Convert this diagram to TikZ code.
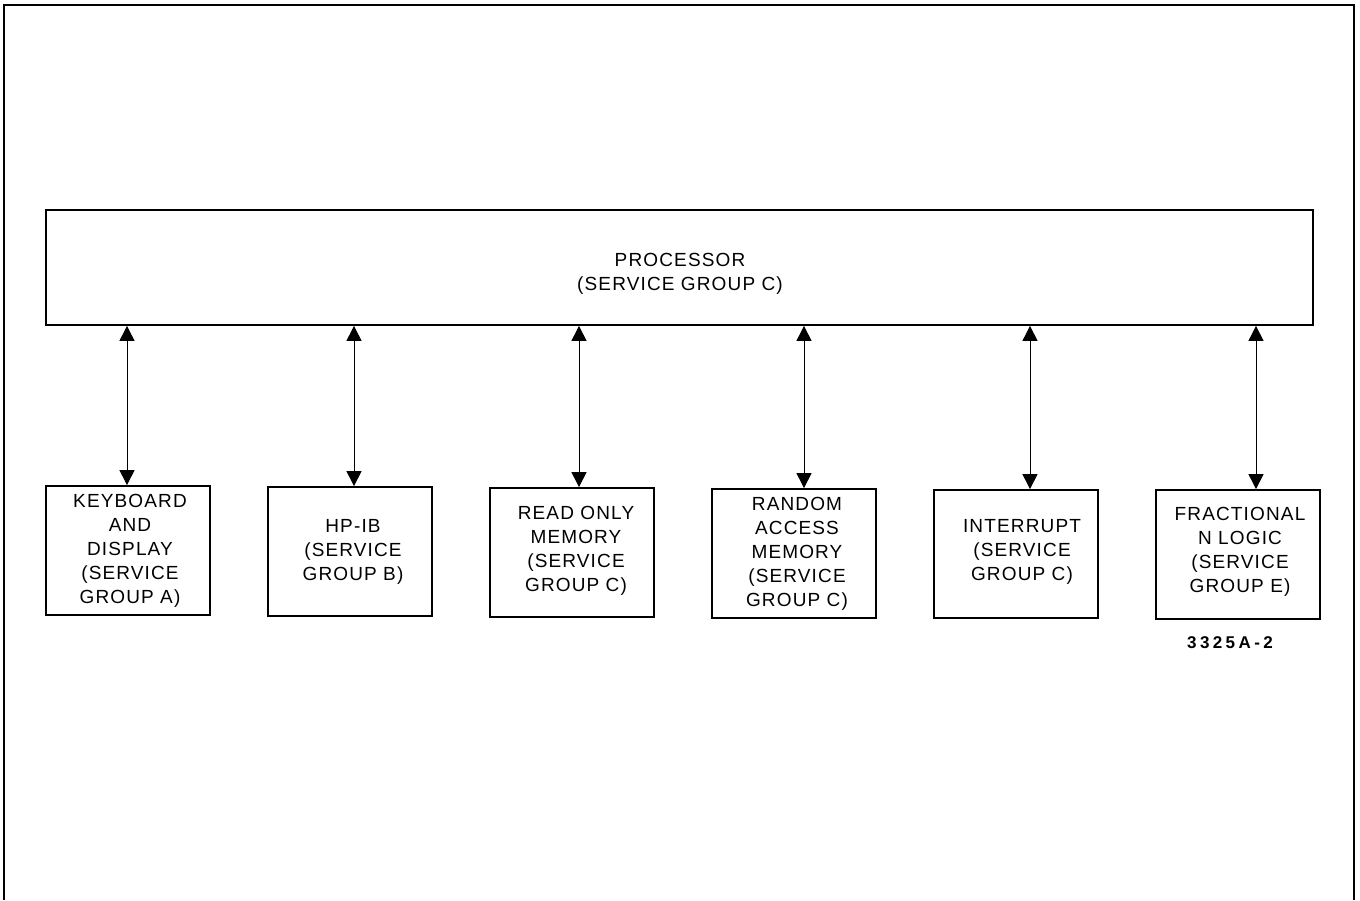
\documentclass[tikz,border=0pt]{standalone}
\usepackage{fontspec}
\setmainfont{Liberation Sans}[LetterSpace=6]
\usetikzlibrary{arrows.meta}
\begin{document}
\begin{tikzpicture}[x=1pt,y=-1pt,
  box/.style={draw,line width=1.8pt,inner sep=0pt},
  lbl/.style={align=center,font=\fontsize{19}{24}\selectfont},
  link/.style={line width=1pt,{Triangle[width=15pt,length=15pt]}-{Triangle[width=15pt,length=15pt]}}]
\useasboundingbox (0,0) rectangle (1360,900);
\draw[line width=2pt] (4,900) -- (4,5) -- (1354,5) -- (1354,900);
% processor
\node[box,minimum width=1267pt,minimum height=115pt] (proc) at (679.5,267.5) {};
\node[lbl] (proct) at (680,274) {PROCESSOR\\(SERVICE GROUP C)};
% lower boxes
\node[box,minimum width=164pt,minimum height=129pt] (b1) at (128,550.5) {};
\node[box,minimum width=164pt,minimum height=129pt] (b2) at (350,551.5) {};
\node[box,minimum width=164pt,minimum height=129pt] (b3) at (572,552.5) {};
\node[box,minimum width=164pt,minimum height=129pt] (b4) at (794,553.5) {};
\node[box,minimum width=164pt,minimum height=128pt] (b5) at (1016,554) {};
\node[box,minimum width=164pt,minimum height=129pt] (b6) at (1238,554.5) {};
\node[lbl] (t1) at (130,551) {KEYBOARD\\AND\\DISPLAY\\(SERVICE\\GROUP A)};
\node[lbl] (t2) at (353,552) {HP-IB\\(SERVICE\\GROUP B)};
\node[lbl] (t3) at (576,551) {READ ONLY\\MEMORY\\(SERVICE\\GROUP C)};
\node[lbl] (t4) at (797,554) {RANDOM\\ACCESS\\MEMORY\\(SERVICE\\GROUP C)};
\node[lbl] (t5) at (1022,552) {INTERRUPT\\(SERVICE\\GROUP C)};
\node[lbl] (t6) at (1240,552) {FRACTIONAL\\N LOGIC\\(SERVICE\\GROUP E)};
% connectors
\draw[link] (proc.south -| 127,0) -- (b1.north -| 127,0);
\draw[link] (proc.south -| 354,0) -- (b2.north -| 354,0);
\draw[link] (proc.south -| 579,0) -- (b3.north -| 579,0);
\draw[link] (proc.south -| 804,0) -- (b4.north -| 804,0);
\draw[link] (proc.south -| 1030,0) -- (b5.north -| 1030,0);
\draw[link] (proc.south -| 1256,0) -- (b6.north -| 1256,0);
\node[font=\fontsize{17}{20}\selectfont\bfseries\addfontfeature{LetterSpace=20}] (fig) at (1230,643) {3325A-2};
\end{tikzpicture}
\end{document}
